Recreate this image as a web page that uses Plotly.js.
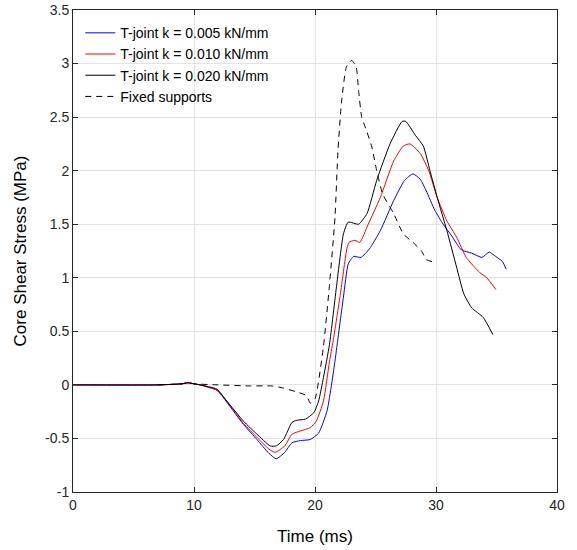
<!DOCTYPE html>
<html><head><meta charset="utf-8">
<script src="https://cdn.plot.ly/plotly-3.0.1.min.js"></script>
<style>html,body{margin:0;padding:0;background:#fff}#chart{width:577px;height:550px}</style>
</head><body><div id="chart"></div>
<script>
// T-joint k = 0.005 kN/mm (blue)
const t005 = [0, 7, 9, 9.5, 10, 10.5, 11.9, 12.7, 14.1, 15.2, 16.2, 16.8, 17.5, 18.1, 18.8, 19.6, 20.3, 21.0, 21.65, 21.8, 22.35, 22.75, 23.2, 23.8, 24.5, 25.4, 26.5, 27.4, 28.1, 28.7, 29.2, 29.9, 30.6, 31.3, 32.1, 32.95, 33.8, 34.4, 34.8, 35.5, 35.8];
const v005 = [0, 0, 0.01, 0.02, 0.01, 0, -0.05, -0.16, -0.37, -0.51, -0.64, -0.69, -0.63, -0.54, -0.52, -0.51, -0.45, -0.24, 0.22, 0.35, 0.82, 1.13, 1.2, 1.19, 1.27, 1.44, 1.72, 1.91, 1.97, 1.92, 1.81, 1.63, 1.5, 1.39, 1.26, 1.23, 1.19, 1.24, 1.21, 1.15, 1.08];
// T-joint k = 0.010 kN/mm (red)
const t010 = [0, 7, 9, 9.5, 10, 10.5, 11.9, 12.7, 14.1, 15.2, 16.2, 16.7, 17.5, 18.1, 18.8, 19.6, 20.1, 20.7, 21.2, 21.5, 22.1, 22.6, 22.8, 23.3, 23.7, 24.4, 25.4, 26.5, 27.3, 27.85, 28.7, 29.4, 30.1, 30.9, 31.7, 32.5, 33.6, 34.2, 34.95];
const v010 = [0, 0, 0.01, 0.02, 0.01, 0, -0.05, -0.15, -0.36, -0.49, -0.6, -0.63, -0.57, -0.46, -0.43, -0.4, -0.34, -0.15, 0.22, 0.41, 0.85, 1.25, 1.33, 1.35, 1.33, 1.5, 1.75, 2.09, 2.23, 2.25, 2.16, 2.0, 1.75, 1.53, 1.38, 1.19, 1.05, 1.0, 0.89];
// T-joint k = 0.020 kN/mm (black)
const t020 = [0, 7, 9, 9.5, 10, 10.5, 11.9, 12.7, 14.1, 15.2, 16.3, 16.8, 17.4, 18.1, 18.5, 19.2, 19.9, 20.3, 20.7, 21.2, 21.8, 22.35, 22.75, 23.6, 24.3, 25.1, 26.2, 27.2, 27.5, 28.3, 28.95, 29.5, 30.1, 30.9, 31.7, 32.3, 32.95, 33.9, 34.7];
const v020 = [0, 0, 0.01, 0.02, 0.01, 0, -0.04, -0.15, -0.34, -0.46, -0.57, -0.57, -0.51, -0.35, -0.33, -0.32, -0.26, -0.15, 0.07, 0.38, 0.94, 1.41, 1.52, 1.5, 1.6, 1.91, 2.25, 2.46, 2.46, 2.33, 2.23, 2.0, 1.75, 1.44, 1.1, 0.85, 0.72, 0.63, 0.47];
// Fixed supports (dashed)
const tFix = [7, 9, 9.5, 10, 12, 14.6, 16.5, 17.4, 18.6, 19.3, 19.6, 20.0, 20.7, 21.2, 21.65, 21.9, 22.2, 22.6, 23.03, 23.4, 23.6, 23.86, 24.27, 24.7, 25.1, 25.6, 26.5, 27.3, 28.1, 28.8, 29.2, 29.7];
const vFix = [0, 0.01, 0.02, 0.01, 0, -0.01, -0.01, -0.03, -0.07, -0.1, -0.17, -0.13, 0.36, 0.94, 1.56, 2.19, 2.65, 2.97, 3.03, 2.97, 2.75, 2.5, 2.37, 2.22, 2.0, 1.78, 1.6, 1.41, 1.33, 1.25, 1.17, 1.15];

const seriesNames = ["T-joint k = 0.005 kN/mm", "T-joint k = 0.010 kN/mm", "T-joint k = 0.020 kN/mm", "Fixed supports"];
const xTicks = [0, 10, 20, 30, 40];
const xTickText = ["0", "10", "20", "30", "40"];
const yTicks = [-1, -0.5, 0, 0.5, 1, 1.5, 2, 2.5, 3, 3.5];
const yTickText = ["-1", "-0.5", "0", "0.5", "1", "1.5", "2", "2.5", "3", "3.5"];

const traces = [
  {x: t005, y: v005, name: seriesNames[0], mode: 'lines', line: {color: '#0000ff', width: 1, shape: 'spline', smoothing: 0.5}},
  {x: t010, y: v010, name: seriesNames[1], mode: 'lines', line: {color: '#ff0000', width: 1, shape: 'spline', smoothing: 0.5}},
  {x: t020, y: v020, name: seriesNames[2], mode: 'lines', line: {color: '#000000', width: 1, shape: 'spline', smoothing: 0.5}},
  {x: tFix, y: vFix, name: seriesNames[3], mode: 'lines', line: {color: '#000000', width: 1, dash: '6px,5px', shape: 'spline', smoothing: 0.5}}
];

const axisCommon = {
  showline: true, linecolor: '#262626', linewidth: 1, mirror: 'ticks',
  ticks: 'inside', ticklen: 5, tickcolor: '#262626',
  showgrid: true, gridcolor: '#e3e3e3', gridwidth: 1, zeroline: false,
  tickfont: {family: 'Liberation Sans, Arial, sans-serif', size: 14, color: '#262626'}
};

const layout = {
  width: 577, height: 550,
  margin: {l: 73, r: 20, t: 10, b: 58},
  paper_bgcolor: '#ffffff', plot_bgcolor: '#ffffff',
  showlegend: true,
  legend: {x: 0.015, y: 0.985, xanchor: 'left', yanchor: 'top', bgcolor: 'rgba(0,0,0,0)',
           font: {family: 'Liberation Sans, Arial, sans-serif', size: 14, color: '#000'},
           itemwidth: 30, tracegroupgap: 0},
  xaxis: Object.assign({}, axisCommon, {range: [0, 40], tickvals: xTicks, ticktext: xTickText,
    title: {text: 'Time (ms)', font: {family: 'Liberation Sans, Arial, sans-serif', size: 17, color: '#000'}, standoff: 18}}),
  yaxis: Object.assign({}, axisCommon, {range: [-1, 3.5], tickvals: yTicks, ticktext: yTickText,
    title: {text: 'Core Shear Stress (MPa)', font: {family: 'Liberation Sans, Arial, sans-serif', size: 17, color: '#000'}, standoff: 14}})
};

Plotly.newPlot('chart', traces, layout, {displayModeBar: false, staticPlot: true});
</script></body></html>
